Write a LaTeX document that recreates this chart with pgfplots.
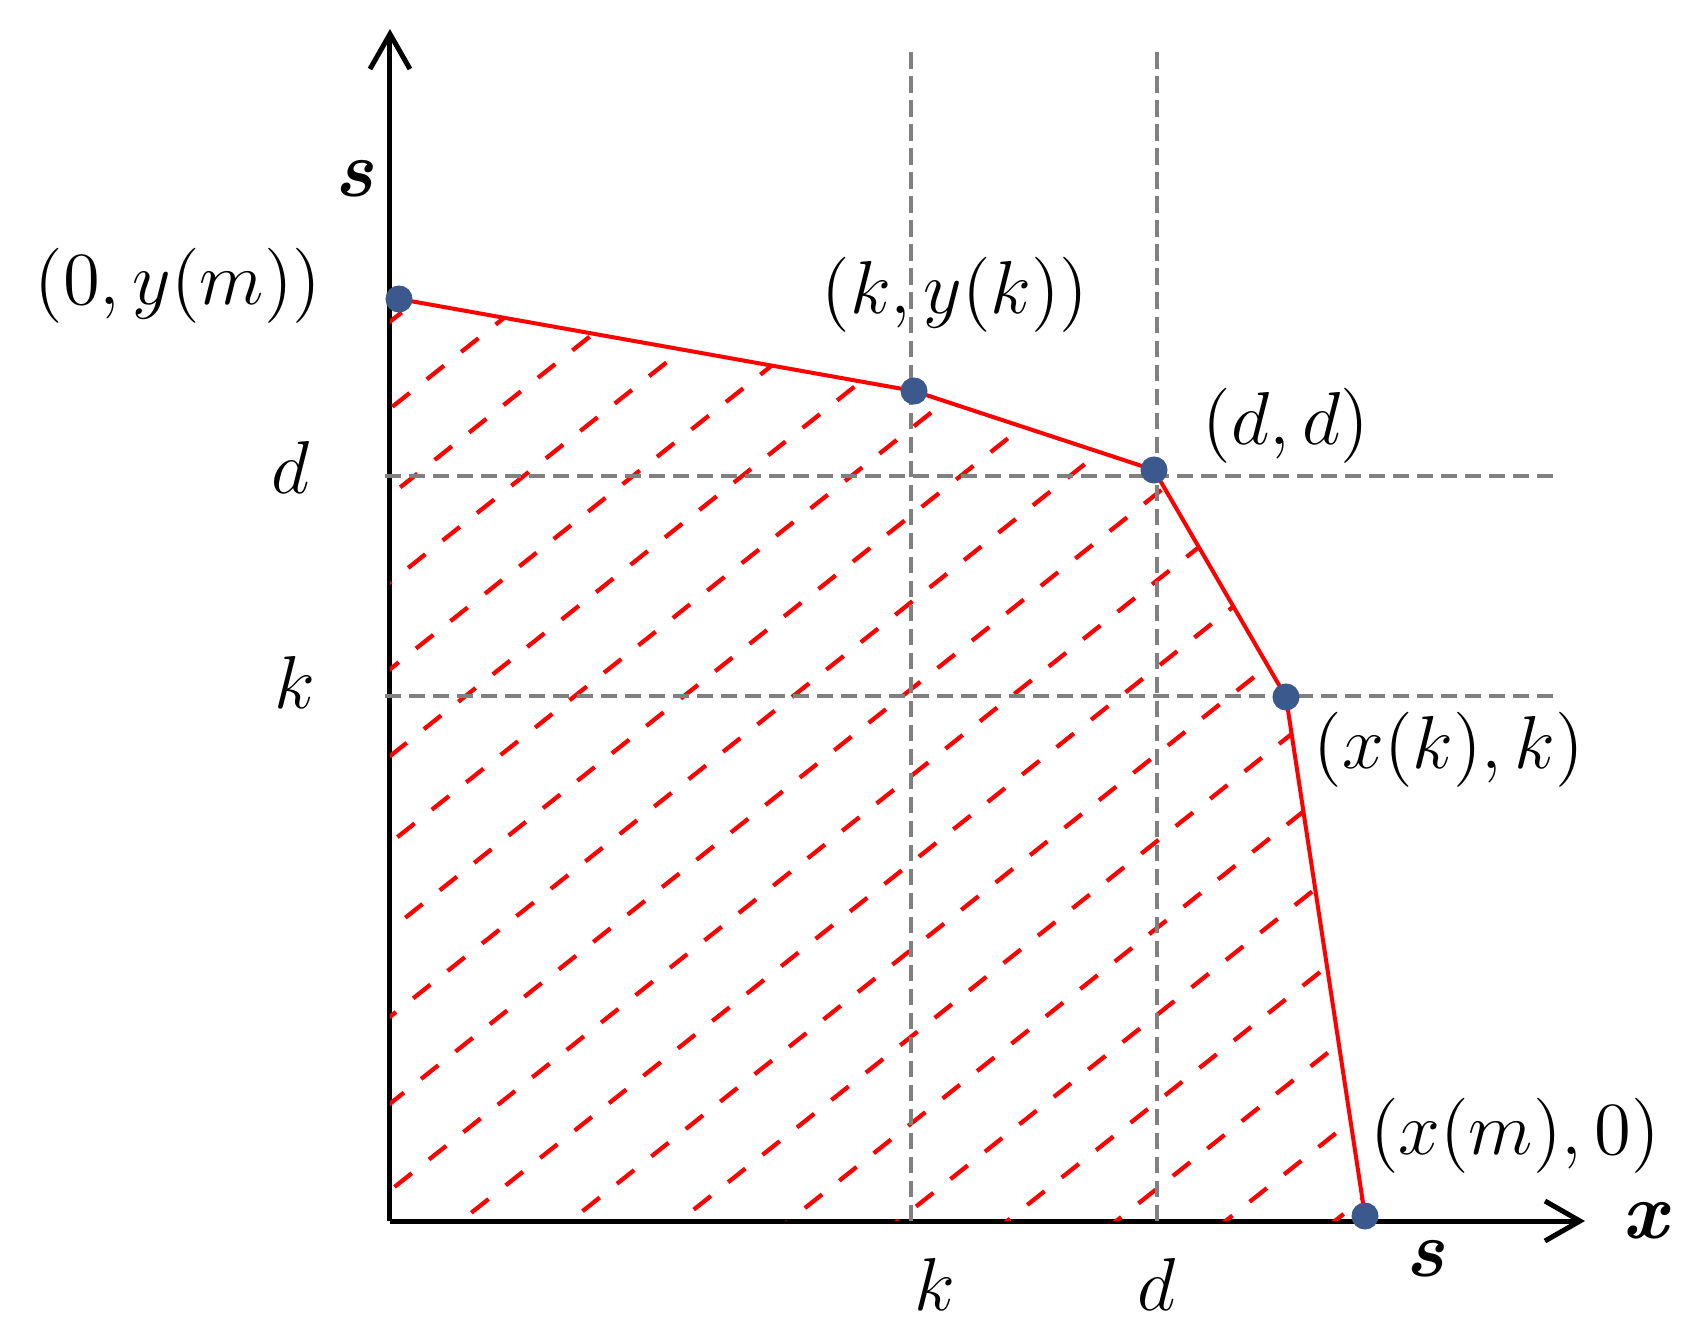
\RequirePackage{fix-cm}
\documentclass[border=0pt]{standalone}
\usepackage{pgfplots}
\pgfplotsset{compat=1.18}
\usetikzlibrary{patterns.meta,arrows.meta}
\definecolor{markblue}{RGB}{59,89,140}
\definecolor{dgray}{RGB}{128,128,128}
\tikzdeclarepattern{
  name=redhatch,
  type=uncolored,
  bounding box={(0pt,-6.8pt) and (8.8pt,6.8pt)},
  tile size={(8.8pt,13.6pt)},
  tile transformation={rotate=38.5},
  code={
    \draw[line width=0.85pt, line cap=butt] (0pt,0pt) -- (4.4pt,0pt);
  }
}
\tikzset{lab/.style={font=\fontsize{15}{18}\selectfont},
         blab/.style={font=\fontsize{16}{19}\selectfont}}
\begin{document}
\begin{tikzpicture}
\begin{axis}[
  x=0.2pt, y=0.2pt,
  xmin=0, xmax=1195, ymin=0, ymax=1192,
  enlargelimits=false,
  axis lines=left,
  axis line style={line width=1pt, -{Straight Barb[length=7pt, width=8pt, line width=1pt]}},
  xtick=\empty, ytick=\empty,
  clip=false,
]
% invisible frame giving the picture its proportions
\path (axis cs:-390,-106) rectangle (axis cs:1312,1221);
% hatched region
\addplot[draw=none, pattern=redhatch, pattern color=red] coordinates {
  (0,0) (0,922) (9,922) (524,830) (764,751) (896,524) (975,5) (975,0)
} -- cycle;
% gray dashed guide lines
\addplot[dgray, line width=0.9pt, dash pattern=on 3.3pt off 1.5pt] coordinates {(521,0) (521,1169)};
\addplot[dgray, line width=0.9pt, dash pattern=on 3.3pt off 1.5pt] coordinates {(767,0) (767,1169)};
\addplot[dgray, line width=0.9pt, dash pattern=on 3.3pt off 1.5pt] coordinates {(-5,745) (1168,745)};
\addplot[dgray, line width=0.9pt, dash pattern=on 3.3pt off 1.5pt] coordinates {(-5,525) (1168,525)};
% frontier
\addplot[red, line width=0.8pt] coordinates {
  (9,922) (524,830) (764,751) (896,524) (975,5)
};
\addplot[only marks, mark=*, mark size=2.5pt, mark options={fill=markblue, draw=markblue}] coordinates {
  (9,922) (524,830) (764,751) (896,524) (975,5)
};
% labels
\node[lab] at (axis cs:-212,935) {$(0,y(m))$};
\node[lab] at (axis cs:565,926) {$(k,y(k))$};
\node[lab] at (axis cs:896,795) {$(d,d)$};
\node[lab] at (axis cs:1059,471) {$(x(k),k)$};
\node[lab] at (axis cs:1125,85) {$(x(m),0)$};
\node[lab] at (axis cs:-99,754) {$d$};
\node[lab] at (axis cs:-95,539) {$k$};
\node[lab] at (axis cs:545,-63) {$k$};
\node[lab] at (axis cs:767,-63) {$d$};
\node[blab] at (axis cs:-36,1042) {\textbf{\textit{s}}};
\node[blab] at (axis cs:1035,-38) {\textbf{\textit{s}}};
\node[blab] at (axis cs:1257,0) {\textbf{\textit{x}}};
\end{axis}
\end{tikzpicture}
\end{document}
